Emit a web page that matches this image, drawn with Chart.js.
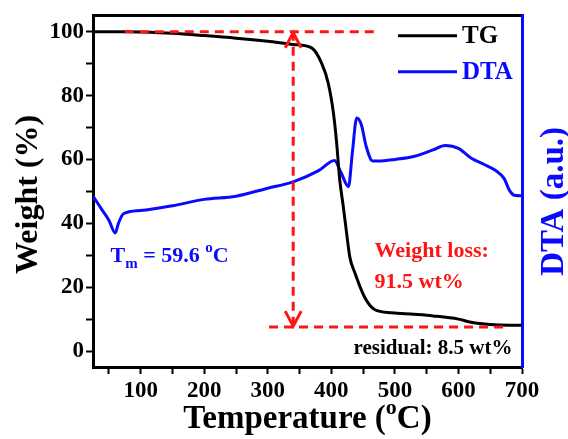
<!DOCTYPE html>
<html>
<head>
<meta charset="utf-8">
<script src="https://cdn.jsdelivr.net/npm/chart.js@4.4.0/dist/chart.umd.min.js"></script>
<style>
html, body { margin: 0; padding: 0; background: #fff; }
#wrap { width: 568px; height: 439px; }
</style>
</head>
<body>
<div id="wrap"><canvas id="tga"></canvas></div>
<script>
// TG curve (weight %, left axis)
var tgTemp   = [25, 60, 80, 100, 150, 200, 250, 300, 340, 370, 385, 395, 403, 408, 413, 419, 424, 429, 437, 452, 468, 495, 530, 560, 600, 620, 650, 680, 700];
var tgWeight = [100, 100, 100, 99.9, 99.5, 98.8, 98, 97, 96, 94.8, 90, 84, 75, 66, 54, 45, 37, 29.5, 24.5, 17, 13, 12, 11.5, 11, 10, 9, 8.3, 8.1, 8.1];

// DTA curve (arbitrary units, drawn on the same scale)
var dtaTemp  = [25, 30, 40, 50, 60, 65, 73, 100, 150, 200, 250, 300, 340, 380, 405, 415, 427, 433, 440, 447, 455, 465, 474, 500, 531, 560, 579, 600, 621, 640, 658, 672, 680, 688, 700];
var dtaValue = [48.5, 47, 44, 41, 37, 40, 43, 44, 45.5, 47.5, 48.5, 51, 53, 56.5, 59.7, 56, 51.5, 62, 73, 71, 64, 59.5, 59.5, 60, 61, 63, 64.4, 63.5, 60.3, 58.5, 56.6, 54, 50.4, 48.8, 48.6];

// tick positions (labelled ones every 100 / 20)
var xTicks = [50, 100, 150, 200, 250, 300, 350, 400, 450, 500, 550, 600, 650, 700];
var yTicks = [0, 10, 20, 30, 40, 50, 60, 70, 80, 90, 100];

// guide lines
var topGuideX    = [75, 471];
var topGuideY    = [100, 100];
var arrowX       = [340, 340];
var arrowY       = [100, 7.5];
var bottomGuideX = [302, 677];
var bottomGuideY = [7.5, 7.5];

var xMin = 25, xMax = 700, yMin = -5, yMax = 105;

var RED = "#ff1414";
var BLUE = "#0a0aff";
var FONT = "'Liberation Serif', 'Times New Roman', serif";

function pts(xs, ys)
{
	let out = [];
	for (let i = 0; i < xs.length; i++)
	{
		out.push({x: xs[i], y: ys[i]});
	}
	return out;
}

// draw text pieces one after another (for sub/superscripts)
function drawPieces(ctx, x, y, pieces, color)
{
	ctx.fillStyle = color;
	ctx.textAlign = "left";
	ctx.textBaseline = "alphabetic";
	for (let i = 0; i < pieces.length; i++)
	{
		let p = pieces[i];
		ctx.font = "bold " + p.size + "px " + FONT;
		ctx.fillText(p.text, x, y + (p.dy || 0));
		x += ctx.measureText(p.text).width;
	}
	return x;
}

function piecesWidth(ctx, pieces)
{
	let w = 0;
	for (let i = 0; i < pieces.length; i++)
	{
		ctx.font = "bold " + pieces[i].size + "px " + FONT;
		w += ctx.measureText(pieces[i].text).width;
	}
	return w;
}

var decorations = {
	id: "decorations",
	afterDraw: function(chart)
	{
		let ctx = chart.ctx;
		let area = chart.chartArea;
		let xs = chart.scales.x;
		let ys = chart.scales.y;
		ctx.save();

		// arrow heads on the vertical guide
		let ax = xs.getPixelForValue(arrowX[0]);
		let aTop = ys.getPixelForValue(arrowY[0]);
		let aBot = ys.getPixelForValue(arrowY[1]);
		ctx.strokeStyle = RED;
		ctx.lineWidth = 3;
		ctx.beginPath();
		ctx.moveTo(ax - 8, aTop + 16);
		ctx.lineTo(ax, aTop + 1);
		ctx.lineTo(ax + 8, aTop + 16);
		ctx.moveTo(ax - 8, aBot - 16);
		ctx.lineTo(ax, aBot - 1);
		ctx.lineTo(ax + 8, aBot - 16);
		ctx.stroke();

		// legend
		ctx.lineWidth = 3;
		ctx.strokeStyle = "#000";
		ctx.beginPath();
		ctx.moveTo(area.right - 124, area.top + 20);
		ctx.lineTo(area.right - 65, area.top + 20);
		ctx.stroke();
		ctx.strokeStyle = BLUE;
		ctx.beginPath();
		ctx.moveTo(area.right - 124, area.top + 56);
		ctx.lineTo(area.right - 65, area.top + 56);
		ctx.stroke();
		ctx.textBaseline = "middle";
		ctx.textAlign = "left";
		ctx.font = "bold 25px " + FONT;
		ctx.fillStyle = "#000";
		ctx.fillText("TG", area.right - 60, area.top + 21);
		ctx.fillStyle = BLUE;
		ctx.fillText("DTA", area.right - 60, area.top + 57);

		// annotations
		drawPieces(ctx, xs.getPixelForValue(468), ys.getPixelForValue(29.5),
			[{text: "Weight loss:", size: 22}], RED);
		drawPieces(ctx, xs.getPixelForValue(468), ys.getPixelForValue(19.9),
			[{text: "91.5 wt%", size: 22}], RED);
		let resid = [{text: "residual: 8.5 wt%", size: 21}];
		drawPieces(ctx, xs.getPixelForValue(685) - piecesWidth(ctx, resid), ys.getPixelForValue(-0.9), resid, "#000");
		drawPieces(ctx, xs.getPixelForValue(52.5), ys.getPixelForValue(28), [
			{text: "T", size: 22},
			{text: "m", size: 15, dy: 6},
			{text: " = 59.6 ", size: 22},
			{text: "o", size: 15, dy: -10},
			{text: "C", size: 22}
		], BLUE);

		// x axis title
		let xt = [
			{text: "Temperature (", size: 33},
			{text: "o", size: 22, dy: -14},
			{text: "C)", size: 33}
		];
		let cx = (area.left + area.right) / 2;
		drawPieces(ctx, cx - piecesWidth(ctx, xt) / 2, area.bottom + 61, xt, "#000");

		// left y title
		ctx.save();
		ctx.translate(area.left - 56, (area.top + area.bottom) / 2 + 3);
		ctx.rotate(-Math.PI / 2);
		ctx.textAlign = "center";
		ctx.textBaseline = "alphabetic";
		ctx.font = "bold 32px " + FONT;
		ctx.fillStyle = "#000";
		ctx.fillText("Weight (%)", 0, 0);
		ctx.restore();

		// right y title
		ctx.save();
		ctx.translate(area.right + 41, (area.top + area.bottom) / 2 + 10);
		ctx.rotate(-Math.PI / 2);
		ctx.textAlign = "center";
		ctx.textBaseline = "alphabetic";
		ctx.font = "bold 33px " + FONT;
		ctx.fillStyle = BLUE;
		ctx.fillText("DTA (a.u.)", 0, 0);
		ctx.restore();

		ctx.restore();
	}
};

var tickFont = {family: FONT, size: 23, weight: "bold"};

function useTicks(values)
{
	return function(s)
	{
		s.ticks = values.map(function(v) { return {value: v}; });
	};
}

var chart = new Chart("tga",
{
	type: "line",
	data:
	{
		datasets:
		[
			{
				label: "top guide",
				data: pts(topGuideX, topGuideY),
				borderColor: RED, borderWidth: 3, borderDash: [9, 6],
				pointRadius: 0, order: 0
			},
			{
				label: "arrow",
				data: pts(arrowX, arrowY),
				borderColor: RED, borderWidth: 3, borderDash: [9, 6],
				pointRadius: 0, order: 0
			},
			{
				label: "bottom guide",
				data: pts(bottomGuideX, bottomGuideY),
				borderColor: RED, borderWidth: 3, borderDash: [9, 6],
				pointRadius: 0, order: 0
			},
			{
				label: "TG",
				data: pts(tgTemp, tgWeight),
				borderColor: "#000", borderWidth: 3,
				pointRadius: 0, cubicInterpolationMode: "monotone", order: 1
			},
			{
				label: "DTA",
				data: pts(dtaTemp, dtaValue),
				borderColor: BLUE, borderWidth: 3,
				pointRadius: 0, cubicInterpolationMode: "monotone", order: 2
			}
		]
	},
	options:
	{
		responsive: true,
		maintainAspectRatio: false,
		animation: false,
		devicePixelRatio: 1,
		layout: { padding: 0 },
		plugins:
		{
			legend: { display: false },
			tooltip: { enabled: false }
		},
		scales:
		{
			x:
			{
				type: "linear", position: "bottom", min: xMin, max: xMax,
				afterBuildTicks: useTicks(xTicks),
				afterFit: function(s) { s.height = 72; },
				ticks:
				{
					autoSkip: false, maxRotation: 0, padding: 3,
					color: "#000", font: tickFont,
					callback: function(v) { return v % 100 === 0 ? v : ""; }
				},
				grid: { display: true, drawOnChartArea: false, drawTicks: true, tickLength: 7, tickWidth: 2, tickColor: "#000" },
				border: { color: "#000", width: 3 }
			},
			x2:
			{
				type: "linear", position: "top", min: xMin, max: xMax,
				afterFit: function(s) { s.height = 13; },
				ticks: { display: false },
				grid: { display: false },
				border: { color: "#000", width: 3 }
			},
			y:
			{
				type: "linear", position: "left", min: yMin, max: yMax,
				afterBuildTicks: useTicks(yTicks),
				afterFit: function(s) { s.width = 93; },
				ticks:
				{
					autoSkip: false, padding: 2,
					color: "#000", font: tickFont,
					callback: function(v) { return v % 20 === 0 ? v : ""; }
				},
				grid: { display: true, drawOnChartArea: false, drawTicks: true, tickLength: 7, tickWidth: 2, tickColor: "#000" },
				border: { color: "#000", width: 3 }
			},
			y2:
			{
				type: "linear", position: "right", min: yMin, max: yMax,
				afterFit: function(s) { s.width = 46; },
				ticks: { display: false },
				grid: { display: false },
				border: { color: BLUE, width: 3 }
			}
		}
	},
	plugins: [decorations]
});
</script>
</body>
</html>
